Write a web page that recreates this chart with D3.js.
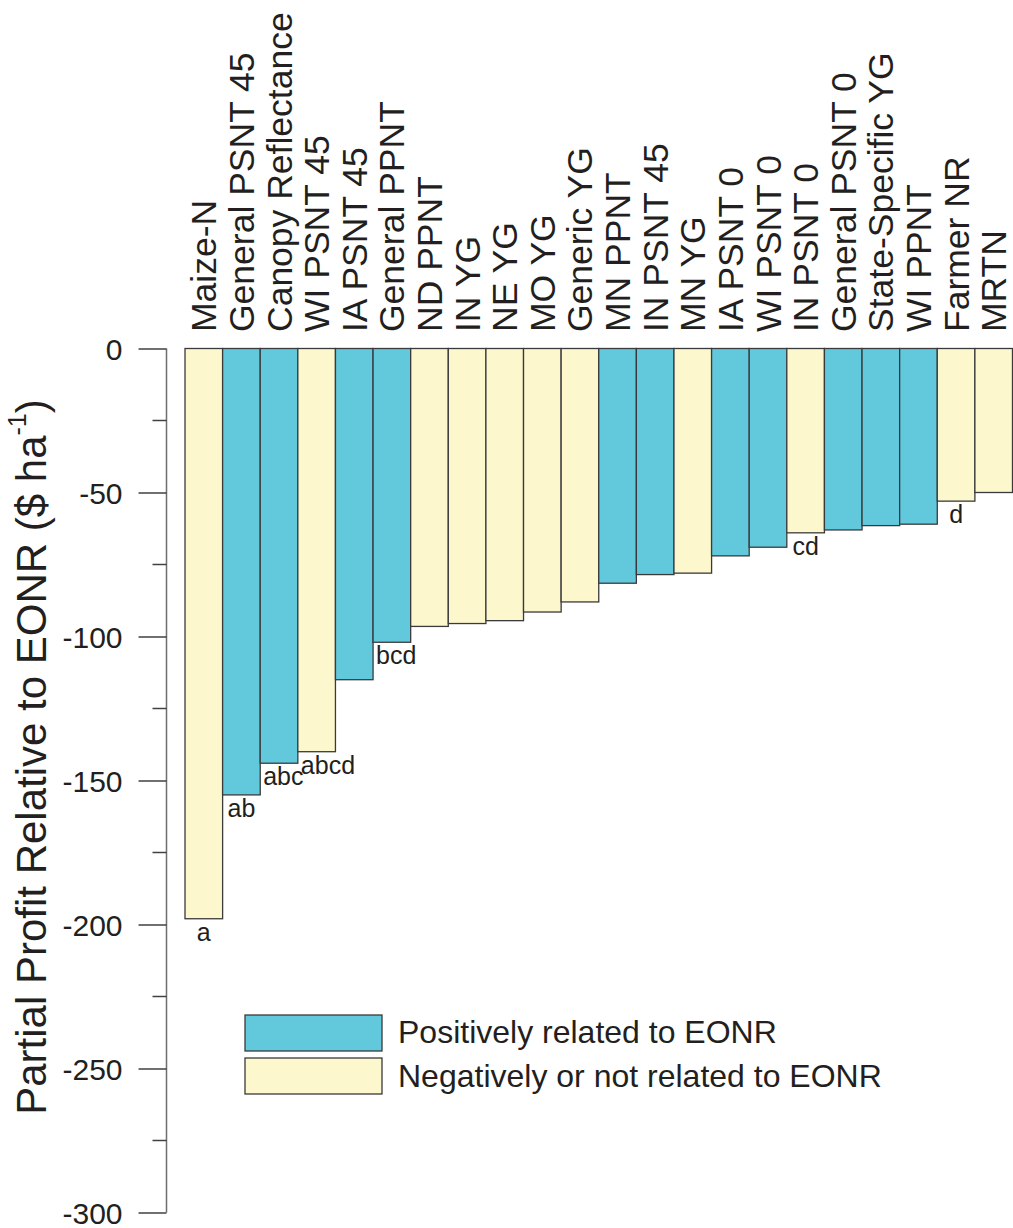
<!DOCTYPE html>
<html>
<head>
<meta charset="utf-8">
<script src="https://cdn.jsdelivr.net/npm/d3@7"></script>
<style>
  body { margin: 0; background: #fff; }
  text { font-family: "Liberation Sans", Arial, Helvetica, sans-serif; fill: #231f20; }
</style>
</head>
<body>
<svg id="chart" width="1013" height="1228"></svg>
<script>
// ---- data ----
const categories = ["Maize-N","General PSNT 45","Canopy Reflectance","WI PSNT 45","IA PSNT 45","General PPNT","ND PPNT","IN YG","NE YG","MO YG","Generic YG","MN PPNT","IN PSNT 45","MN YG","IA PSNT 0","WI PSNT 0","IN PSNT 0","General PSNT 0","State-Specific YG","WI PPNT","Farmer NR","MRTN"];
const values = [-198,-155,-144,-140,-115,-102,-96.5,-95.5,-94.5,-91.5,-88,-81.5,-78.5,-78,-72,-69,-64,-63,-61.5,-61,-53,-50];
const relation = ["neg","pos","pos","neg","pos","pos","neg","neg","neg","neg","neg","pos","pos","neg","pos","pos","neg","pos","pos","pos","neg","neg"];
const letters = ["a","ab","abc","abcd","","bcd","","","","","","","","","","","cd","","","","d",""];
const yTicks = [0,-50,-100,-150,-200,-250,-300];
const yTickLabels = ["0","-50","-100","-150","-200","-250","-300"];
const yMinorTicks = [-25,-75,-125,-175,-225,-275];
const legendKeys = ["pos","neg"];
const legendLabels = ["Positively related to EONR","Negatively or not related to EONR"];

const colors = {pos: "#62c9dc", neg: "#fcf7cd"};

const svg = d3.select("#chart");
const y = d3.scaleLinear().domain([0, -300]).range([348.5, 1212.5]);
const x = d3.scaleBand().domain(categories).range([185, 1012.5]).padding(0);
const axisX = 166.5;

// axis
const axisG = svg.append("g").attr("transform", `translate(${axisX},0)`);
axisG.call(d3.axisLeft(y).tickValues(yTicks).tickSize(28).tickPadding(16)
  .tickFormat((d, i) => yTickLabels[i]));
axisG.select(".domain").attr("stroke", "#6d6e70").attr("stroke-width", 1.5).attr("d", `M0,${y(0)}V${y(-300)}`);
axisG.selectAll(".tick line").attr("stroke", "#414042").attr("stroke-width", 1.5);
axisG.selectAll(".tick text").style("font-size", "30px").attr("dy", "0.36em").attr("fill", "#231f20");
axisG.selectAll(".minor").data(yMinorTicks).enter().append("line")
  .attr("x1", -14).attr("x2", 0).attr("y1", d => y(d)).attr("y2", d => y(d))
  .attr("stroke", "#414042").attr("stroke-width", 1.5);

// y title
const titleT = svg.append("text")
  .attr("transform", `translate(46,${757}) rotate(-90)`)
  .attr("text-anchor", "middle")
  .style("font-size", "42px");
titleT.append("tspan").text("Partial Profit Relative to EONR ($ ha");
titleT.append("tspan").text("-1").attr("dy", "-0.8em").style("font-size", "25px");
titleT.append("tspan").text(")").attr("dy", "0.48em");

// bars
svg.append("g").selectAll("rect").data(categories).enter().append("rect")
  .attr("x", d => x(d))
  .attr("width", x.bandwidth())
  .attr("y", y(0))
  .attr("height", (d, i) => y(values[i]) - y(0))
  .attr("fill", (d, i) => colors[relation[i]])
  .attr("stroke", "#3a3a3c").attr("stroke-width", 1.3);

// category labels
svg.append("g").selectAll("text").data(categories).enter().append("text")
  .attr("transform", d => `translate(${x(d) + x.bandwidth() / 2 + 12.5},332) rotate(-90)`)
  .attr("text-anchor", "start")
  .style("font-size", "35.5px")
  .text(d => d);

// significance letters
svg.append("g").selectAll("text").data(categories).enter().append("text")
  .style("font-size", "25px")
  .attr("y", (d, i) => y(values[i]) + 22)
  .text((d, i) => letters[i])
  .each(function(d) {
    const w = this.getComputedTextLength();
    const cx = x(d) + x.bandwidth() / 2;
    d3.select(this).attr("x", Math.max(cx - w / 2, x(d) + 3));
  });

// legend
const lg = svg.append("g");
legendKeys.forEach((k, i) => {
  lg.append("rect").attr("x", 245).attr("y", 1015 + i * 43).attr("width", 137).attr("height", 36)
    .attr("fill", colors[k]).attr("stroke", "#3a3a3c").attr("stroke-width", 1.3);
  lg.append("text").attr("x", 398).attr("y", 1043 + i * 44).style("font-size", "32px").text(legendLabels[i]);
});
</script>
</body>
</html>
